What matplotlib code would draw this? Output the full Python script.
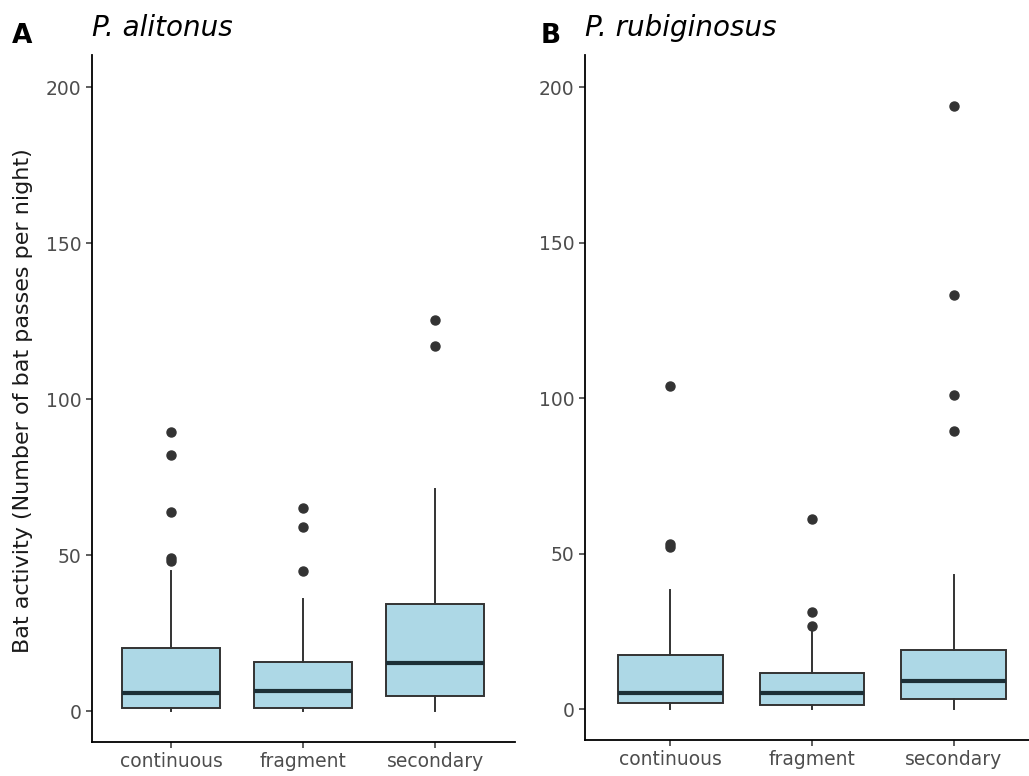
import matplotlib.pyplot as plt

# Bat activity (passes per night) per habitat
habitats = ["continuous", "fragment", "secondary"]

# P. alitonus
alit_q1 = [1.1, 1.1, 4.9]
alit_med = [5.8, 6.4, 15.4]
alit_q3 = [20.1, 15.6, 34.3]
alit_lo = [0, 0, 0]
alit_hi = [45, 36, 71.3]
alit_out = [[89.4, 82, 64, 49, 48.2], [65, 58.9, 45], [125.4, 117]]

# P. rubiginosus
rubi_q1 = [2.0, 1.5, 3.4]
rubi_med = [5.1, 5.1, 9.2]
rubi_q3 = [17.3, 11.7, 19.2]
rubi_lo = [0, 0, 0]
rubi_hi = [38.2, 26, 43.2]
rubi_out = [[104, 53.2, 52.1], [61.2, 31.4, 26.8], [194, 133.2, 101.1, 89.4]]

y_ticks = [0, 50, 100, 150, 200]

fill = "#ADD8E6"
edge = "#333333"
tick_grey = "#4D4D4D"

W, H = 1029, 776


def make_stats(q1, med, q3, lo, hi, out):
    stats = []
    for i, name in enumerate(habitats):
        stats.append(dict(label=name, q1=q1[i], med=med[i], q3=q3[i],
                          whislo=lo[i], whishi=hi[i], fliers=out[i]))
    return stats


def draw_panel(ax, stats, title):
    ax.bxp(stats, positions=[1, 2, 3], widths=0.74, patch_artist=True,
           showcaps=False,
           boxprops=dict(facecolor=fill, edgecolor=edge, linewidth=1.4),
           medianprops=dict(color="#1c2f36", linewidth=3),
           whiskerprops=dict(color=edge, linewidth=1.4),
           flierprops=dict(marker="o", markerfacecolor=edge,
                           markeredgecolor=edge, markersize=6.5))
    ax.set_xlim(0.4, 3.6)
    ax.set_ylim(-9.9, 210.4)
    ax.set_yticks(y_ticks)
    ax.set_xticks([1, 2, 3])
    ax.set_xticklabels(habitats)
    for s in ["top", "right"]:
        ax.spines[s].set_visible(False)
    for s in ["left", "bottom"]:
        ax.spines[s].set_linewidth(1.3)
        ax.spines[s].set_color("black")
    ax.tick_params(axis="both", length=4, width=1.1, color=edge,
                   labelsize=13.5, labelcolor=tick_grey, pad=3.5)
    # title sits about 19 px above the top of the y axis
    ax.annotate(title, xy=(0, 1), xycoords="axes fraction",
                xytext=(0, 19), textcoords="offset pixels",
                fontsize=20, style="italic", ha="left", va="baseline",
                color="black")
    return ax


fig = plt.figure(figsize=(W / 100, H / 100), dpi=100)
ax1 = fig.add_axes([92 / W, 34 / H, 422.5 / W, 687 / H])
ax2 = fig.add_axes([585 / W, 36 / H, 454 / W, 685 / H])

draw_panel(ax1, make_stats(alit_q1, alit_med, alit_q3, alit_lo, alit_hi, alit_out),
           "P. alitonus")
draw_panel(ax2, make_stats(rubi_q1, rubi_med, rubi_q3, rubi_lo, rubi_hi, rubi_out),
           "P. rubiginosus")

fig.text(12 / W, 1 - 43 / H, "A", fontsize=19, fontweight="bold",
         ha="left", va="baseline")
fig.text(541 / W, 1 - 43 / H, "B", fontsize=19, fontweight="bold",
         ha="left", va="baseline")

fig.text(23 / W, 1 - 401 / H, "Bat activity (Number of bat passes per night)",
         fontsize=16, color="#1a1a1a", rotation=90, ha="center", va="center")

fig.savefig("out.png", dpi=100)
